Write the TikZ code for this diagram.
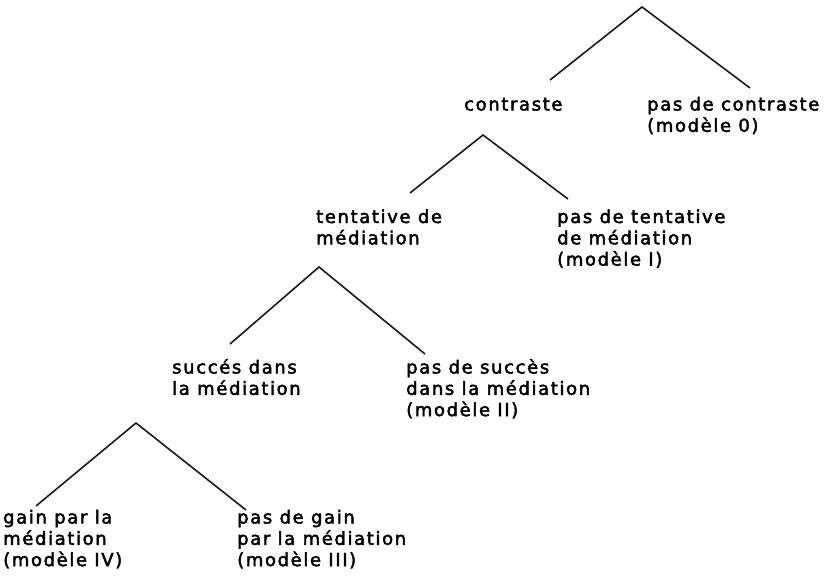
\documentclass[tikz,border=0pt]{standalone}
\usepackage{fontspec}
\setmainfont{DejaVu Sans}[LetterSpace=9,FakeBold=2.5]
\newcommand{\lines}[1]{\begin{tabular}[t]{@{}l@{}}#1\end{tabular}}
\begin{document}
\begin{tikzpicture}[x=1pt,y=-1pt,
  lbl/.style={anchor=base west,inner sep=0pt,font=\fontsize{18}{21.3}\selectfont},
  branch/.style={line width=1.6pt,black!90}]
\useasboundingbox (0,0) rectangle (831,581);
% peaks and branch ends
\coordinate (p1) at (642,7);
\coordinate (l1) at (550,80);
\coordinate (r1) at (750,88);
\coordinate (p2) at (483,135);
\coordinate (l2) at (410,193);
\coordinate (r2) at (568,199);
\coordinate (p3) at (319,267);
\coordinate (l3) at (230,344);
\coordinate (r3) at (425,354);
\coordinate (p4) at (136,423);
\coordinate (l4) at (36,506);
\coordinate (r4) at (246,510);
% labels
\node[lbl] (contraste) at (464,110.5) {\lines{contraste}};
\node[lbl] (pascontraste) at (647,110.5) {\lines{pas de contraste\\(modèle 0)}};
\node[lbl] (tentative) at (316,223) {\lines{tentative de\\médiation}};
\node[lbl] (pastentative) at (557,223) {\lines{pas de tentative\\de médiation\\(modèle I)}};
\node[lbl] (succes) at (172,373.5) {\lines{succés dans\\la médiation}};
\node[lbl] (passucces) at (406,373.5) {\lines{pas de succès\\dans la médiation\\(modèle II)}};
\node[lbl] (gain) at (3,523.5) {\lines{gain par la\\médiation\\(modèle IV)}};
\node[lbl] (pasgain) at (237,523.5) {\lines{pas de gain\\par la médiation\\(modèle III)}};
% branches
\draw[branch] (l1) -- (p1) -- (r1);
\draw[branch] (l2) -- (p2) -- (r2);
\draw[branch] (l3) -- (p3) -- (r3);
\draw[branch] (l4) -- (p4) -- (r4);
\end{tikzpicture}
\end{document}
